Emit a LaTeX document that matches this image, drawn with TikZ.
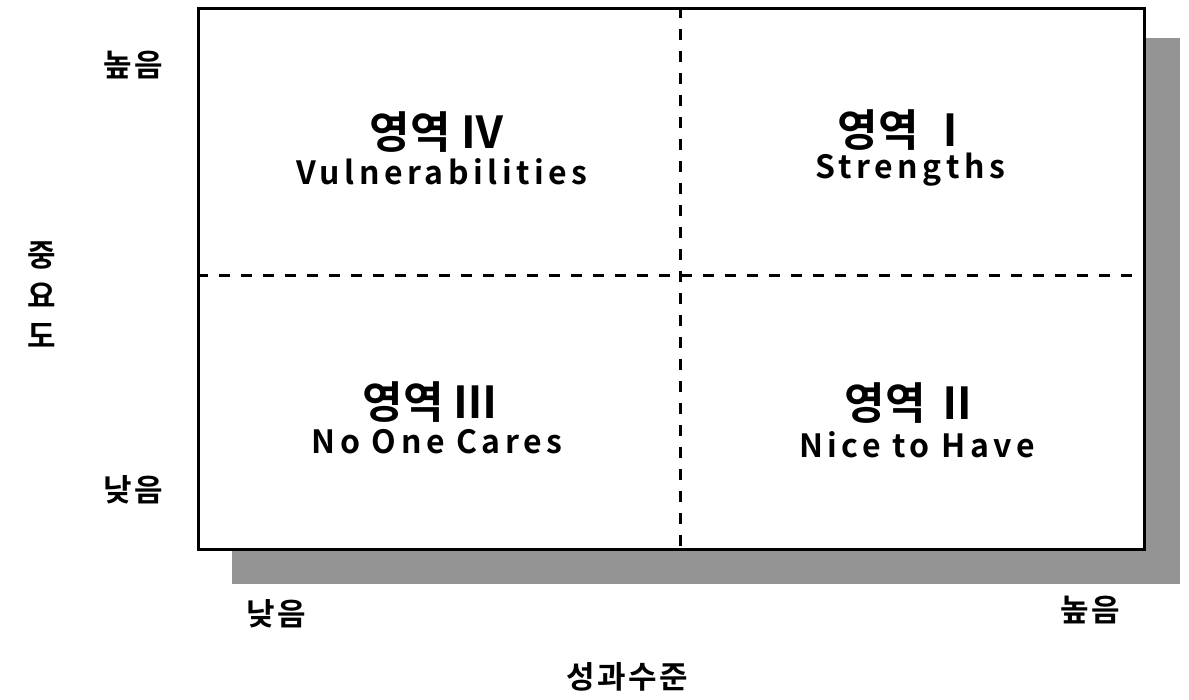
\documentclass[tikz,border=0pt]{standalone}
\usepackage{fontspec}
\setmainfont{Noto Sans CJK KR}[BoldFont={* Bold}]
\newfontfamily\kr{Noto Sans CJK KR Bold}[LetterSpace=8]
\newfontfamily\krz{Noto Sans CJK KR Bold}
\newfontfamily\lat{Noto Sans CJK KR Bold}[LetterSpace=14]
\begin{document}
\begin{tikzpicture}[x=1pt,y=-1pt,
  axlab/.style={font=\kr\fontsize{31}{33}\selectfont, inner sep=0pt},
  zone/.style={font=\krz\fontsize{44}{46}\selectfont, inner sep=0pt},
  zname/.style={font=\lat\fontsize{32}{34}\selectfont, inner sep=0pt},
  divider/.style={line width=3pt, dash pattern=on 11pt off 11pt},
  shadow/.style={fill=black!42, draw=none}]
\useasboundingbox (0,0) rectangle (1189,699);
% shadow
\fill[shadow] (1145,38) rectangle (1180,584);
\fill[shadow] (232,549) rectangle (1180,584);
% box
\node[draw=black, line width=3pt, fill=white, minimum width=946pt, minimum height=541pt, inner sep=0pt, anchor=north west] (box) at (197,7) {};
\coordinate (top) at (680,7);
\coordinate (bot) at (680,548);
\coordinate (lft) at (197,275);
\coordinate (rgt) at (1143,275);
\draw[divider] (top) -- (bot);
\draw[divider] (lft) -- (rgt);
% zone labels
\node[zone] (z4) at (437,132) {영역 Ⅳ};
\node[zname] (n4) at (442,172) {Vulnerabilities};
\node[zone] (z1) at (905,130) {영역 Ⅰ};
\node[zname] (n1) at (910,170) {Strengths};
\node[zone] (z3) at (430,402) {영역 Ⅲ};
\node[zname] (n3) at (437,442) {No One Cares};
\node[zone] (z2) at (912,403) {영역 Ⅱ};
\node[zname] (n2) at (917,445) {Nice to Have};
% axis labels
\node[axlab] (yhi) at (133,65) {높음};
\node[axlab] (ylo) at (133,490) {낮음};
\node[axlab] (y1) at (42,255) {중};
\node[axlab] (y2) at (42,295) {요};
\node[axlab] (y3) at (42,335) {도};
\node[axlab] (xlo) at (276,614) {낮음};
\node[axlab] (xhi) at (1090,610) {높음};
\node[axlab] (xt) at (627,677) {성과수준};
\end{tikzpicture}
\end{document}
